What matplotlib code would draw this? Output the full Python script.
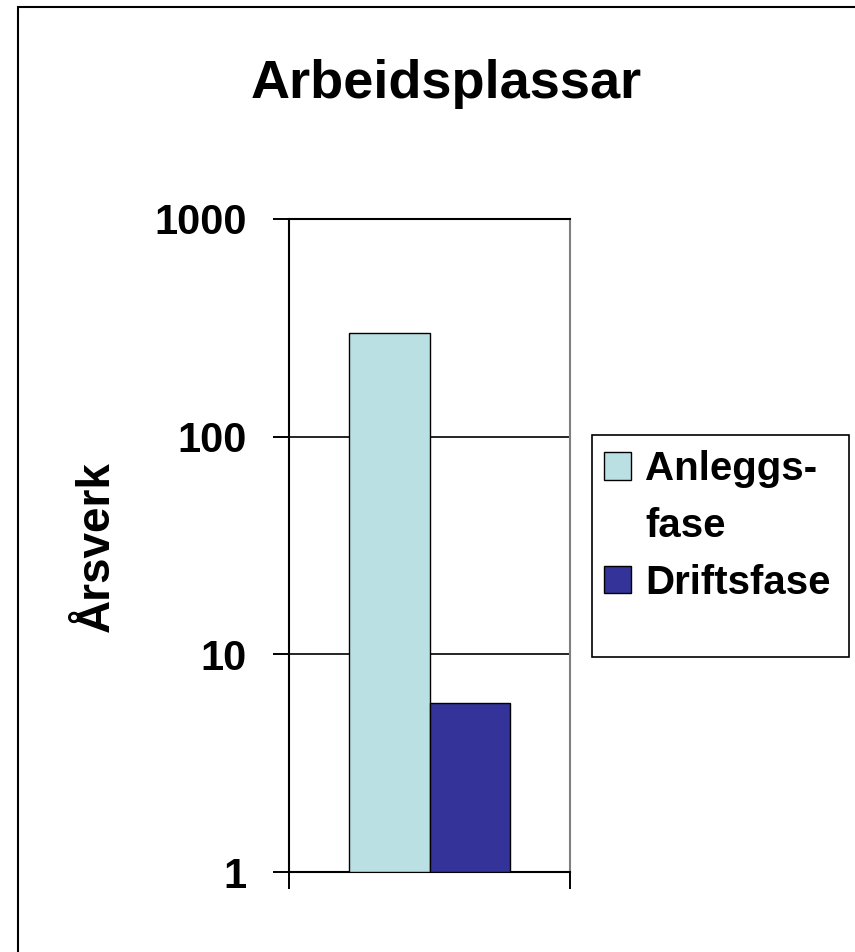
import matplotlib
matplotlib.use('Agg')
import matplotlib.pyplot as plt
from matplotlib.patches import Patch, Rectangle
from matplotlib.ticker import FixedLocator, NullLocator, FixedFormatter

plt.rcParams['font.family'] = ['Liberation Sans', 'DejaVu Sans']
plt.rcParams['font.weight'] = 'bold'

# data
series = ['Anleggsfase', 'Driftsfase']
legend_text = ['Anleggs-\nfase', 'Driftsfase']
values = [300, 6]
colors = ['#BBE0E3', '#333399']
y_ticks = [1, 10, 100, 1000]
y_ticklabels = ['1', '10', '100', '1000']

W, H = 855, 952
fig = plt.figure(figsize=(W / 100, H / 100), dpi=100)

# outer frame (only left and top edges visible)
fig.patches.append(Rectangle((17.5 / W, -0.05), 1.0, 1 - 6.5 / H + 0.05,
                             transform=fig.transFigure, fill=False,
                             edgecolor='black', linewidth=1.5))

ax = fig.add_axes([289 / W, 1 - 872 / H, (570 - 289) / W, (872 - 219) / H])
ax.set_yscale('log')
ax.set_ylim(1, 1000)
ax.set_xlim(-0.5, 0.5)

# bars start at the bottom of the log axis (1)
width = 0.286
xpos = [-width / 2, width / 2]
for i in range(len(series)):
    ax.bar(xpos[i], values[i] - 1, width=width, bottom=1, color=colors[i],
           edgecolor='black', linewidth=1.0, zorder=3)

ax.yaxis.set_major_locator(FixedLocator(y_ticks))
ax.yaxis.set_major_formatter(FixedFormatter(y_ticklabels))
ax.yaxis.set_minor_locator(NullLocator())
ax.set_xticks([-0.5, 0.5])
ax.set_xticklabels([])
ax.tick_params(axis='y', direction='out', length=11.5, width=1.4,
               pad=19, labelsize=30, colors='black')
ax.tick_params(axis='x', direction='out', length=12, width=1.4)
ax.grid(axis='y', which='major', color='black', linewidth=1.2, zorder=0)
for s in ['left', 'bottom', 'top']:
    ax.spines[s].set_linewidth(1.5)
    ax.spines[s].set_color('black')
ax.spines['right'].set_linewidth(1.5)
ax.spines['right'].set_color('#808080')
for lab in ax.get_yticklabels():
    lab.set_fontweight('bold')

fig.text(446 / W, 1 - 98 / H, 'Arbeidsplassar', fontsize=39,
         fontweight='bold', ha='center', va='baseline')
fig.text(97 / W, 1 - 547 / H, 'Årsverk', fontsize=33, fontweight='bold',
         rotation=90, ha='center', va='center')

# legend: one row per text line, handle on the first line of each entry
handles, labels = [], []
for i in range(len(series)):
    lines = legend_text[i].split('\n')
    handles.append(Patch(facecolor=colors[i], edgecolor='black', linewidth=1.0))
    labels.append(lines[0])
    for extra in lines[1:]:
        handles.append(Patch(facecolor='none', edgecolor='none'))
        labels.append(extra)

fig.patches.append(Rectangle((592 / W, 1 - 657 / H), (849 - 592) / W,
                             (657 - 435) / H, transform=fig.transFigure,
                             fill=False, edgecolor='black', linewidth=1.2))
fig.legend(handles, labels, loc='upper left',
           bbox_to_anchor=(604 / W, 1 - 450 / H), frameon=False,
           prop={'size': 29, 'weight': 'bold'}, handlelength=0.67,
           handleheight=0.67, handletextpad=0.36, labelspacing=0.47,
           borderpad=0, borderaxespad=0)

fig.savefig('out.png', dpi=100)
